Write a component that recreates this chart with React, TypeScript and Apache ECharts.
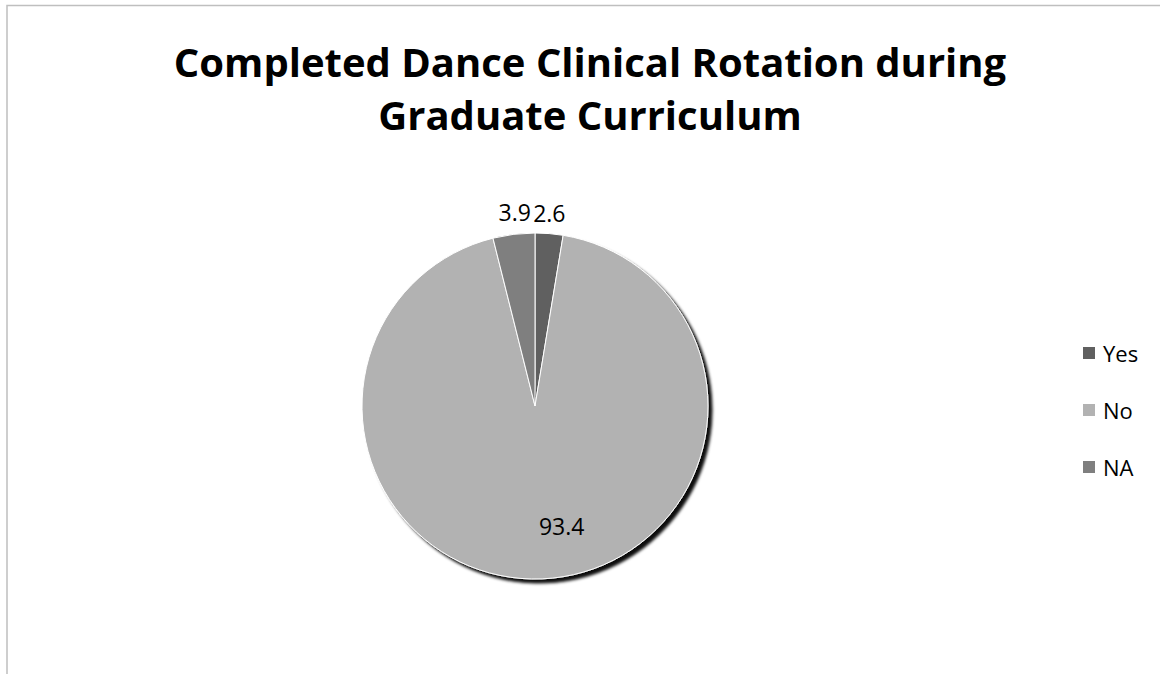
import React, { useEffect, useRef } from "react";
import * as echarts from "echarts";

const titleLines = ["Completed Dance Clinical Rotation during", "Graduate Curriculum"];
const categories = ["Yes", "No", "NA"];
const values = [2.6, 93.4, 3.9];
const colors = ["#606060", "#b2b2b2", "#7f7f7f"];

export default function App() {
  const ref = useRef<HTMLDivElement>(null);
  useEffect(() => {
    const chart = echarts.init(ref.current!, null, { renderer: "svg" });
    const font = "'Open Sans', sans-serif";
    chart.setOption({
      animation: false,
      backgroundColor: "#ffffff",
      title: {
        text: titleLines.join("\n"),
        left: 585,
        top: 30,
        textAlign: "center",
        textStyle: { fontFamily: font, fontWeight: "bold", fontSize: 40, lineHeight: 53, color: "#000" },
      },
      legend: {
        orient: "vertical",
        left: 1076,
        top: 337,
        itemWidth: 14,
        itemHeight: 14,
        itemGap: 35,
        icon: "rect",
        data: categories,
        textStyle: { fontFamily: font, fontSize: 22, color: "#000", padding: [0, 0, 0, 2] },
      },
      graphic: [
        {
          type: "polyline",
          shape: { points: [[7, 680], [7, 5.5], [1170, 5.5]] },
          style: { stroke: "#bfbfbf", lineWidth: 1.5, fill: "none" },
        },
      ],
      series: [
        {
          type: "pie",
          center: [535, 406],
          radius: 173,
          startAngle: 90,
          clockwise: true,
          avoidLabelOverlap: false,
          labelLine: { show: false, length: 0, length2: 0 },
          label: {
            fontFamily: font,
            fontSize: 23,
            color: "#000",
            formatter: (p: any) => String(p.value),
          },
          itemStyle: { borderColor: "#ffffff", borderWidth: 1 },
          data: categories.map((c, i) => ({
            name: c,
            value: values[i],
            itemStyle:
              c === "No"
                ? { color: colors[i], shadowColor: "rgba(0,0,0,0.95)", shadowBlur: 3, shadowOffsetX: 4, shadowOffsetY: 4 }
                : { color: colors[i] },
            label: c === "No" ? { position: "inside" } : { position: "outside" },
          })),
          labelLayout: (p: any) => {
            if (p.dataIndex === 1) return { dx: 23, dy: 31 };
            if (p.dataIndex === 0) return { dx: -21, dy: -21 };
            return { dx: 22, dy: -22 };
          },
        },
      ],
    });
    return () => chart.dispose();
  }, []);
  return <div ref={ref} style={{ position: "fixed", left: 0, top: 0, width: 1160, height: 674 }} />;
}
